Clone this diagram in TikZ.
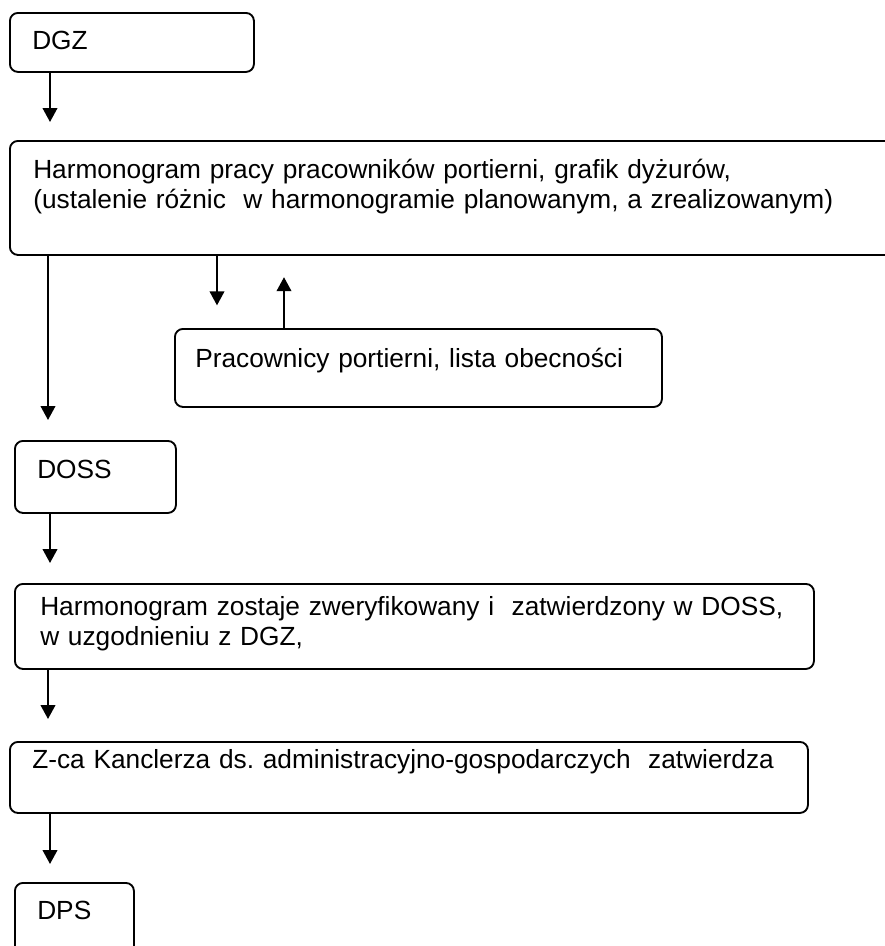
\documentclass[tikz,border=0pt]{standalone}
\usepackage{fontspec}
\setmainfont{Liberation Sans}
\usetikzlibrary{arrows.meta, calc}
\frenchspacing

\begin{document}
\begin{tikzpicture}[
  x=0.75pt, y=-0.75pt,
  every node/.style={font=\fontsize{19.7}{22.5}\selectfont},
  box/.style={rectangle, rounded corners=6pt, draw=black, line width=1.4pt,
              anchor=north west, inner sep=0pt},
  txt/.style={anchor=base west, inner sep=0pt, align=left, text width=800*0.75pt},
  flow/.style={-{Triangle[length=10.5pt, width=11pt]}, black, line width=1.4pt}
]
  \clip (0,0) rectangle (885,946);

  \node[box, minimum width=244*0.75pt, minimum height=59*0.75pt] (dgz) at (9,12) {};
  \node[txt] (dgz-t) at (32,49) {DGZ};

  \node[box, minimum width=900*0.75pt, minimum height=114*0.75pt] (harm) at (9,140) {};
  \node[txt] (harm-t) at (33,178) {Harmonogram pracy pracowników portierni, grafik dyżurów,\\
    (ustalenie różnic\ \ w harmonogramie planowanym, a zrealizowanym)};

  \node[box, minimum width=487*0.75pt, minimum height=78*0.75pt] (prac) at (174,328) {};
  \node[txt] (prac-t) at (195,367) {Pracownicy portierni, lista obecności};

  \node[box, minimum width=161*0.75pt, minimum height=72*0.75pt] (doss) at (14,440) {};
  \node[txt] (doss-t) at (37,478) {DOSS};

  \node[box, minimum width=799*0.75pt, minimum height=85*0.75pt] (zost) at (14,583) {};
  \node[txt] (zost-t) at (40,615) {Harmonogram zostaje zweryfikowany i\ \ zatwierdzony w DOSS,\\
    w uzgodnieniu z DGZ,};

  \node[box, minimum width=798*0.75pt, minimum height=71*0.75pt] (zca) at (9,741) {};
  \node[txt] (zca-t) at (32,768) {Z-ca Kanclerza ds. administracyjno-gospodarczych\ \ zatwierdza};

  \node[box, minimum width=119*0.75pt, minimum height=110*0.75pt] (dps) at (14,882) {};
  \node[txt] (dps-t) at (37,919) {DPS};

  % main line
  \draw[flow, shorten >=13.5pt] ($(dgz.south west)+(41,0)$) -- ($(harm.north west)+(41,0)$);
  \draw[flow, shorten >=15pt] ($(harm.south west)+(39,0)$) -- ($(doss.north west)+(34,0)$);
  \draw[flow, shorten >=15pt] ($(doss.south west)+(36,0)$) -- ($(zost.north west)+(36,0)$);
  \draw[flow, shorten >=16.5pt] ($(zost.south west)+(34,0)$) -- ($(zca.north west)+(39,0)$);
  \draw[flow, shorten >=13.5pt] ($(zca.south west)+(41,0)$) -- ($(dps.north west)+(36,0)$);

  % portiernia
  \draw[flow, shorten >=17pt] ($(harm.south west)+(208,0)$) -- ($(prac.north west)+(43,0)$);
  \draw[flow, shorten >=16pt] ($(prac.north west)+(110,0)$) -- ($(harm.south west)+(275,0)$);
\end{tikzpicture}
\end{document}
